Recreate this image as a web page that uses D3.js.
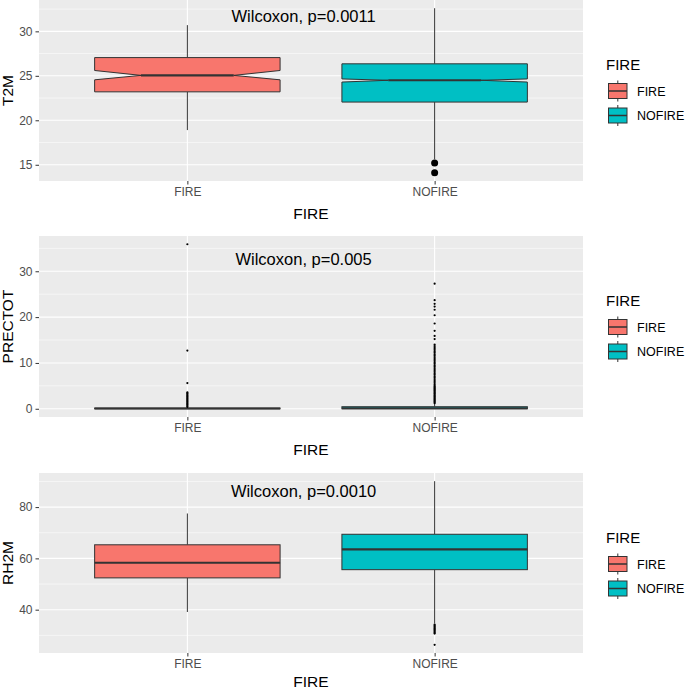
<!DOCTYPE html>
<html>
<head>
<meta charset="utf-8">
<script src="https://cdn.jsdelivr.net/npm/d3@7"></script>
<style>
  html, body { margin: 0; padding: 0; background: #fff; }
  svg { display: block; font-family: "Liberation Sans", Arial, sans-serif; }
</style>
</head>
<body>
<svg id="chart" width="685" height="692"></svg>
<script>
// ---------------- DATA ----------------
const categories = ["FIRE", "NOFIRE"];
const variables = ["T2M", "PRECTOT", "RH2M"];
const pLabels = ["Wilcoxon, p=0.0011", "Wilcoxon, p=0.005", "Wilcoxon, p=0.0010"];
const pLabelY = [31.0, 31.3, 83.8];
const yTicks = [[15, 20, 25, 30], [0, 10, 20, 30], [40, 60, 80]];

// box statistics per panel, [FIRE, NOFIRE]
const whiskerLow  = [[18.9, 15.6], [0.0, 0.0], [39.1, 34.6]];
const q1Values    = [[23.2, 22.05], [0.0, 0.0], [52.4, 55.6]];
const medians     = [[25.05, 24.5], [0.05, 0.1], [58.3, 63.5]];
const q3Values    = [[27.05, 26.35], [0.15, 0.45], [65.3, 69.4]];
const whiskerHigh = [[30.7, 32.6], [0.35, 1.1], [77.5, 90.1]];
const notchLow    = [[24.55, 24.3], null, null];
const notchHigh   = [[25.6, 24.65], null, null];

const outliersT2M = [[], [15.2, 14.1]];
const outliersPRECTOT = [
  [0.4, 0.6, 0.8, 1.0, 1.2, 1.4, 1.6, 1.8, 2.0, 2.2, 2.4, 2.6, 2.8, 3.0, 3.2, 3.4, 3.6, 5.6, 12.7, 35.9],
  [1.2, 1.4, 1.6, 1.8, 2.0, 2.2, 2.4, 2.6, 2.8, 3.0, 3.2, 3.4, 3.6, 3.8, 4.0, 4.2, 4.4, 4.6, 4.8, 5.0,
   5.3, 5.6, 5.9, 6.2, 6.5, 6.8, 7.1, 7.4, 7.7, 8.0, 8.3, 8.6, 8.9, 9.2, 9.5, 9.8, 10.1, 10.4, 10.7,
   11.0, 11.3, 11.6, 11.9, 12.2, 12.5, 12.8, 13.1, 13.4, 13.7, 14.0, 15.2, 15.9, 17.0, 18.6, 20.4,
   21.6, 22.3, 22.9, 23.7, 27.3]
];
const outliersRH2M = [[], [34.2, 33.8, 33.4, 33.0, 32.6, 32.2, 31.8, 31.4, 31.0, 30.7, 26.3]];
const outliers = [outliersT2M, outliersPRECTOT, outliersRH2M];

const fillColors = ["#F8766D", "#00BFC4"];

// ---------------- LAYOUT ----------------
const panelLeft = 39, panelRight = 583;
const panelTops = [0, 236, 473];
const panelHeights = [181, 181, 180];
const outlierRadius = [3.5, 1.1, 1.1];

const svg = d3.select("#chart");

const x = d3.scalePoint().domain(categories).range([panelLeft, panelRight]).padding(0.6);
const boxW = x.step() * 0.75;
const xCont = d3.scaleLinear().domain([0.4, 2.6]).range([panelLeft, panelRight]);

variables.forEach((v, p) => {
  const top = panelTops[p], h = panelHeights[p], bottom = top + h;
  const allVals = [];
  for (let c = 0; c < 2; c++) {
    allVals.push(whiskerLow[p][c], whiskerHigh[p][c], ...outliers[p][c]);
  }
  const mn = d3.min(allVals), mx = d3.max(allVals), r = mx - mn;
  const y = d3.scaleLinear().domain([mn - 0.05 * r, mx + 0.05 * r]).range([bottom, top]);
  const g = svg.append("g");

  // panel background
  g.append("rect").attr("x", panelLeft).attr("y", top)
    .attr("width", panelRight - panelLeft).attr("height", h).attr("fill", "#EBEBEB");

  // minor grid
  const ticks = yTicks[p];
  const stepT = ticks[1] - ticks[0];
  const minors = [ticks[0] - stepT / 2, ...ticks.map(t => t + stepT / 2)]
    .filter(m => m >= y.domain()[0] && m <= y.domain()[1]);
  g.selectAll(".minor").data(minors).enter().append("line")
    .attr("x1", panelLeft).attr("x2", panelRight)
    .attr("y1", d => y(d)).attr("y2", d => y(d))
    .attr("stroke", "#fff").attr("stroke-width", 0.55);
  // major grid
  g.selectAll(".major").data(ticks).enter().append("line")
    .attr("x1", panelLeft).attr("x2", panelRight)
    .attr("y1", d => y(d)).attr("y2", d => y(d))
    .attr("stroke", "#fff").attr("stroke-width", 1.1);
  g.selectAll(".vmajor").data(categories).enter().append("line")
    .attr("x1", d => x(d)).attr("x2", d => x(d))
    .attr("y1", top).attr("y2", bottom)
    .attr("stroke", "#fff").attr("stroke-width", 1.1);

  // y axis
  const yAxis = d3.axisLeft(y).tickValues(ticks).tickSize(3.5).tickPadding(3);
  const ya = g.append("g").attr("transform", `translate(${panelLeft},0)`).call(yAxis);
  ya.select(".domain").remove();
  ya.selectAll("line").attr("stroke", "#333").attr("stroke-width", 1);
  ya.selectAll("text").attr("fill", "#4D4D4D").attr("font-size", 12)
    .attr("font-family", "Liberation Sans, Arial, sans-serif");

  // x axis
  const xAxis = d3.axisBottom(x).tickSize(3.5).tickPadding(3);
  const xa = g.append("g").attr("transform", `translate(0,${bottom})`).call(xAxis);
  xa.select(".domain").remove();
  xa.selectAll("line").attr("stroke", "#333").attr("stroke-width", 1);
  xa.selectAll("text").attr("fill", "#4D4D4D").attr("font-size", 12)
    .attr("font-family", "Liberation Sans, Arial, sans-serif");

  // axis titles
  g.append("text").attr("x", (panelLeft + panelRight) / 2).attr("y", Math.min(bottom + 38, 686.5))
    .attr("text-anchor", "middle").attr("font-size", 15.5).attr("fill", "#000").text("FIRE");
  g.append("text").attr("transform", `translate(12.5,${top + h / 2}) rotate(-90)`)
    .attr("text-anchor", "middle").attr("font-size", 15.5).attr("fill", "#000").text(v);

  // boxes
  categories.forEach((cat, c) => {
    const cx = x(cat), x0 = cx - boxW / 2, x1 = cx + boxW / 2;
    const lo = whiskerLow[p][c], hi = whiskerHigh[p][c];
    const q1 = q1Values[p][c], q3 = q3Values[p][c], md = medians[p][c];
    // whiskers
    g.append("line").attr("x1", cx).attr("x2", cx).attr("y1", y(q3)).attr("y2", y(hi))
      .attr("stroke", "#333").attr("stroke-width", 1);
    g.append("line").attr("x1", cx).attr("x2", cx).attr("y1", y(q1)).attr("y2", y(lo))
      .attr("stroke", "#333").attr("stroke-width", 1);
    let mx0 = x0, mx1 = x1;
    if (notchLow[p]) {
      const nl = notchLow[p][c], nh = notchHigh[p][c];
      const ind = boxW * 0.25;
      mx0 = x0 + ind; mx1 = x1 - ind;
      const pts = [[x0, y(q3)], [x0, y(nh)], [mx0, y(md)], [x0, y(nl)], [x0, y(q1)],
                   [x1, y(q1)], [x1, y(nl)], [mx1, y(md)], [x1, y(nh)], [x1, y(q3)]];
      g.append("polygon").attr("points", pts.map(d => d.join(",")).join(" "))
        .attr("fill", fillColors[c]).attr("stroke", "#333").attr("stroke-width", 1)
        .attr("stroke-linejoin", "miter");
    } else {
      g.append("rect").attr("x", x0).attr("y", y(q3)).attr("width", boxW)
        .attr("height", Math.max(0, y(q1) - y(q3)))
        .attr("fill", fillColors[c]).attr("stroke", "#333").attr("stroke-width", 1);
    }
    g.append("line").attr("x1", mx0).attr("x2", mx1).attr("y1", y(md)).attr("y2", y(md))
      .attr("stroke", "#333").attr("stroke-width", 2.1);
    // outliers
    g.selectAll(null).data(outliers[p][c]).enter().append("circle")
      .attr("cx", cx).attr("cy", d => y(d)).attr("r", outlierRadius[p]).attr("fill", "#000");
  });

  // p-value label
  g.append("text").attr("x", xCont(1.47)).attr("y", y(pLabelY[p]))
    .attr("text-anchor", "middle").attr("font-size", 16.5).attr("fill", "#000").text(pLabels[p]);

  // legend
  const lg = g.append("g");
  lg.append("text").attr("x", 606).attr("y", top + 70).attr("font-size", 15).attr("fill", "#000").text("FIRE");
  categories.forEach((cat, c) => {
    const cy = top + 91 + c * 24.5, kx = 617.8;
    lg.append("line").attr("x1", kx).attr("x2", kx).attr("y1", cy - 10.5).attr("y2", cy + 10.5)
      .attr("stroke", "#333").attr("stroke-width", 1);
    lg.append("rect").attr("x", 608.5).attr("y", cy - 7.5).attr("width", 18.5).attr("height", 15)
      .attr("fill", fillColors[c]).attr("stroke", "#333").attr("stroke-width", 1);
    lg.append("line").attr("x1", 608.5).attr("x2", 627).attr("y1", cy).attr("y2", cy)
      .attr("stroke", "#333").attr("stroke-width", 1.5);
    lg.append("text").attr("x", 637).attr("y", cy + 4.5).attr("font-size", 12.5).attr("fill", "#000").text(cat);
  });
});
</script>
</body>
</html>
